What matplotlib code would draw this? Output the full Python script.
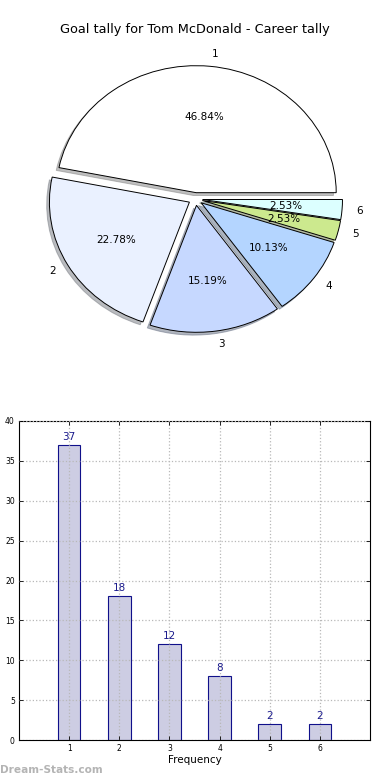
import matplotlib
matplotlib.use("Agg")
import matplotlib.pyplot as plt

labels = ["1", "2", "3", "4", "5", "6"]
goals = [37, 18, 12, 8, 2, 2]
pie_colors = ["#ffffff", "#eaf1ff", "#c6d8ff", "#b4d5ff", "#cce98e", "#dcffff"]
title = "Goal tally for Tom McDonald - Career tally"
xlabel = "Frequency"
yticks = [0, 5, 10, 15, 20, 25, 30, 35, 40]

W, H = 390, 780
fig = plt.figure(figsize=(W / 100, H / 100), dpi=100)

# ---- pie ----
cx, cy = 195.5, 199.0
rx, ry = 140.0, 127.0
lim = 1.3
axp = fig.add_axes([(cx - lim * rx) / W, 1 - (cy + lim * ry) / H,
                    2 * lim * rx / W, 2 * lim * ry / H])
wedges, texts, autotexts = axp.pie(
    goals, labels=labels, colors=pie_colors, explode=[0.05] * len(goals),
    autopct="%1.2f%%", shadow={"ox": -0.014, "oy": -0.016, "shade": 0.5},
    startangle=0, counterclock=True,
    wedgeprops=dict(edgecolor="black", linewidth=0.7),
    textprops=dict(fontsize=7.5), frame=False)
axp.set_xlim(-lim, lim)
axp.set_ylim(-lim, lim)
axp.set_aspect("auto")
axp.axis("off")
fig.text(0.5, 1 - 30 / H, title, ha="center", va="center", fontsize=9.3)

# ---- bars ----
axb = fig.add_axes([19 / W, 1 - 740 / H, 351 / W, 319 / H])
x = list(range(1, len(goals) + 1))
axb.bar(x, goals, width=0.45, color="#cdcde3", edgecolor="#10108a", linewidth=0.8, zorder=1)
for xi, g in zip(x, goals):
    axb.text(xi, g + 0.4, str(g), ha="center", va="bottom", fontsize=7.5, color="#1a1a8c")
axb.set_xlim(0, 7)
axb.set_ylim(0, 40)
axb.set_xticks(x)
axb.set_xticklabels(labels)
axb.set_yticks(yticks)
axb.tick_params(direction="in", labelsize=5.5, length=3, top=True, right=True, pad=3, width=0.6)
axb.grid(True, linestyle=":", color="#b8b8b8", linewidth=0.9, zorder=3)
axb.set_axisbelow(False)
axb.set_xlabel(xlabel, fontsize=7.5, labelpad=1)
for s in axb.spines.values():
    s.set_linewidth(0.8)

fig.text(0.0, 1 - 770 / H, "Dream-Stats.com", ha="left", va="center", fontsize=7.6,
         fontweight="bold", color="#b4b4b4")

fig.savefig("out.png", dpi=100)
